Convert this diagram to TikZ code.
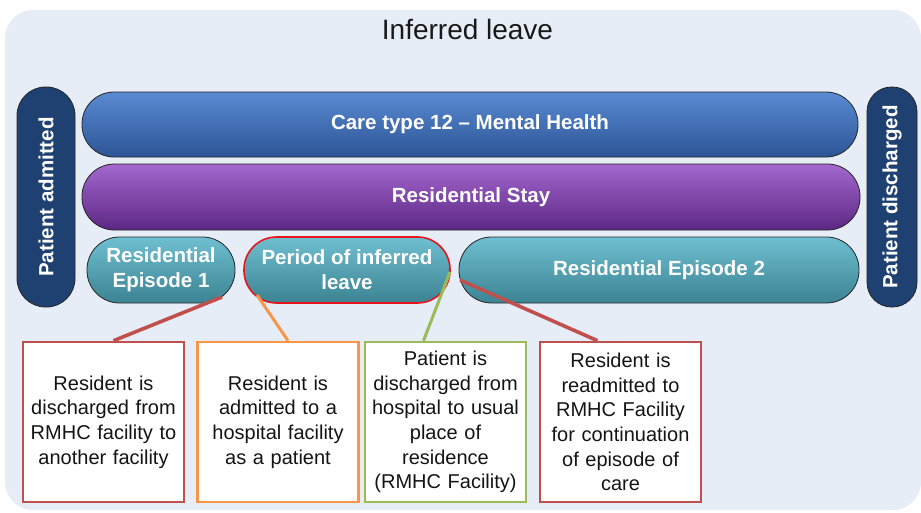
\documentclass[tikz,border=0pt]{standalone}
\usepackage{fontspec}
\setmainfont{Liberation Sans}
\usetikzlibrary{calc}
\definecolor{panelc}{HTML}{E7EDF7}
\definecolor{navyc}{HTML}{1F4172}
\definecolor{caretop}{HTML}{5A8AD2}
\definecolor{carebot}{HTML}{2C5596}
\definecolor{purtop}{HTML}{A468CE}
\definecolor{purbot}{HTML}{5C2784}
\definecolor{tealtop}{HTML}{6FBFD0}
\definecolor{tealbot}{HTML}{3B8393}
\definecolor{boxred}{HTML}{C0504D}
\definecolor{boxorange}{HTML}{F79646}
\definecolor{boxgreen}{HTML}{9BBB59}
\definecolor{edgered}{HTML}{E8141B}
\definecolor{txtc}{HTML}{141414}
\begin{document}
\begin{tikzpicture}[x=1pt,y=-1pt,
  pill/.style={draw=black!85, line width=0.8pt, inner sep=0pt, text=white, align=center,
    font=\bfseries\fontsize{20.5}{25}\selectfont},
  bluepill/.style={pill, top color=caretop, bottom color=carebot, rounded corners=32pt, minimum height=65pt},
  purpill/.style={pill, top color=purtop, bottom color=purbot, rounded corners=32.5pt, minimum height=66pt},
  tealpill/.style={pill, top color=tealtop, bottom color=tealbot, rounded corners=32.5pt, minimum height=66pt},
  navypill/.style={pill, fill=navyc, rotate=90, minimum width=220pt},
  notebox/.style={draw, line width=2.6pt, fill=white, inner sep=0pt, minimum width=161pt, minimum height=160pt,
    text width=158pt, align=center, text=txtc, font=\fontsize{20}{24.6}\selectfont},
  conn/.style={line width=3.6pt}
]
\useasboundingbox (0,0) rectangle (921,512);
\fill[white] (0,0) rectangle (921,512);
\fill[panelc, rounded corners=28pt] (5,10) rectangle (921,510);

\node[font=\fontsize{28}{32}\selectfont, text=black!90] (title) at (467.5,29) {Inferred leave};

\node[bluepill, minimum width=776pt] (care) at (470,124.5) {Care type 12 -- Mental Health};
\node[purpill, minimum width=778pt] (stay) at (471,197) {Residential Stay};
\node[tealpill, minimum width=148pt] (ep1) at (161,270) {Residential\\Episode 1};
\node[tealpill, draw=edgered, line width=1.6pt, minimum width=206pt] (period) at (347,270) {Period of inferred\\leave};
\node[tealpill, minimum width=400pt] (ep2) at (659,270) {Residential Episode 2};

\node[navypill, minimum height=58pt, rounded corners=28.5pt] (adm) at (46,197) {Patient admitted};
\node[navypill, minimum height=50pt, rounded corners=24.5pt] (dis) at (892,197) {Patient discharged};

\node[notebox, draw=boxred] (b1) at (103.5,422) {Resident is\\discharged from\\RMHC facility to\\another facility};
\node[notebox, draw=boxorange] (b2) at (278,422) {Resident is\\admitted to a\\hospital facility\\as a patient};
\node[notebox, draw=boxgreen] (b3) at (445.5,422) {Patient is\\discharged from\\hospital to usual\\place of\\residence\\(RMHC Facility)};
\node[notebox, draw=boxred] (b4) at (620.5,422) {Resident is\\readmitted to\\RMHC Facility\\for continuation\\of episode of\\care};

\draw[conn, draw=boxred] ($(ep1.center)+(61,27)$) -- ($(b1.north)+(10,0)$);
\draw[conn, draw=boxorange, line width=3pt] ($(period.center)+(-90,25)$) -- ($(b2.north)+(10,0)$);
\draw[conn, draw=boxgreen, line width=3pt] ($(period.center)+(103,2)$) -- ($(b3.north)+(-22,0)$);
\draw[conn, draw=boxred] ($(ep2.center)+(-199,10)$) -- ($(b4.north)+(-23,0)$);
\end{tikzpicture}
\end{document}
